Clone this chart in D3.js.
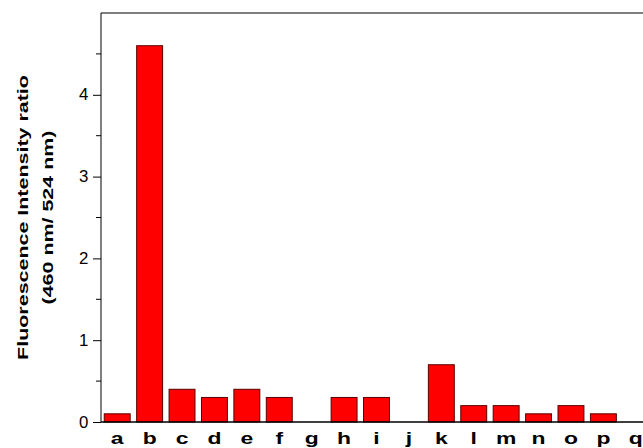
<!DOCTYPE html>
<html>
<head>
<meta charset="utf-8">
<script src="https://cdn.jsdelivr.net/npm/d3@7"></script>
<style>
  body { margin: 0; background: #fff; }
  svg { display: block; font-family: Arial, "Liberation Sans", sans-serif; }
</style>
</head>
<body>
<div id="chart"></div>
<script>
const categories = ['a', 'b', 'c', 'd', 'e', 'f', 'g', 'h', 'i', 'j', 'k', 'l', 'm', 'n', 'o', 'p', 'q']
const ratios = [0.1, 4.6, 0.4, 0.3, 0.4, 0.3, 0, 0.3, 0.3, 0, 0.7, 0.2, 0.2, 0.1, 0.2, 0.1, 0]
const yTicks = [0, 1, 2, 3, 4]
const yMinor = [0.5, 1.5, 2.5, 3.5, 4.5]
const titleLines = ['Fluorescence Intensity ratio', '(460 nm/ 524 nm)']

const width = 643
const height = 448
const margin = { top: 13, right: -9, bottom: 26, left: 101 }
const fontFamily = 'Arial, "Liberation Sans", sans-serif'
// the original text looks stretched along its baseline
const stretch = 1.43

const svg = d3
  .select('#chart')
  .append('svg')
  .attr('width', width)
  .attr('height', height)

const x = d3
  .scaleBand()
  .domain(categories)
  .range([margin.left, width - margin.right])
  .paddingInner(0.2)
  .paddingOuter(0.1)

const y = d3
  .scaleLinear()
  .domain([0, 5])
  .range([height - margin.bottom, margin.top])

// top frame line
svg
  .append('line')
  .attr('x1', margin.left)
  .attr('x2', width)
  .attr('y1', margin.top)
  .attr('y2', margin.top)
  .attr('stroke', '#555')
  .attr('stroke-width', 1.5)

// bars
svg
  .append('g')
  .selectAll('rect')
  .data(categories.map((c, i) => ({ c, v: ratios[i] })).filter((d) => d.v > 0))
  .join('rect')
  .attr('x', (d) => x(d.c))
  .attr('y', (d) => y(d.v))
  .attr('width', x.bandwidth())
  .attr('height', (d) => y(0) - y(d.v))
  .attr('fill', '#ff0000')
  .attr('stroke', '#5a0000')
  .attr('stroke-width', 1)

// y axis
const yAxis = svg
  .append('g')
  .attr('transform', `translate(${margin.left},0)`)
  .call(d3.axisLeft(y).tickValues(yTicks).tickFormat(d3.format('d')).tickSize(8).tickPadding(4))
yAxis.attr('font-family', fontFamily)
yAxis.select('.domain').attr('d', `M0,${y(0)}V${margin.top}`).attr('stroke', '#000')
yAxis
  .selectAll('.tick text')
  .attr('font-size', 16)
  .attr('fill', '#000')
  .attr('transform', 'scale(1.05,1)')
yAxis
  .selectAll('.minor')
  .data(yMinor)
  .join('line')
  .attr('class', 'minor')
  .attr('x1', -5)
  .attr('x2', 0)
  .attr('y1', (d) => y(d))
  .attr('y2', (d) => y(d))
  .attr('stroke', '#000')

// x axis
const xAxis = svg
  .append('g')
  .attr('transform', `translate(0,${y(0)})`)
  .call(d3.axisBottom(x).tickSize(0).tickPadding(11))
xAxis.attr('font-family', fontFamily)
xAxis.select('.domain').attr('d', `M${margin.left},0H${width}`).attr('stroke', '#000').attr('stroke-width', 1.5)
xAxis
  .selectAll('.tick text')
  .attr('font-size', 16)
  .attr('font-weight', 'bold')
  .attr('fill', '#000')
  .attr('transform', `scale(${stretch},1)`)

// y title, two rotated lines
const titleY = (margin.top + y(0)) / 2
svg
  .append('g')
  .selectAll('text')
  .data(titleLines)
  .join('text')
  .attr('transform', (d, i) => `translate(${28 + i * 25},${titleY}) rotate(-90) scale(${stretch},1)`)
  .attr('text-anchor', 'middle')
  .attr('font-size', 15)
  .attr('font-weight', 'bold')
  .attr('fill', '#000')
  .text((d) => d)
</script>
</body>
</html>
